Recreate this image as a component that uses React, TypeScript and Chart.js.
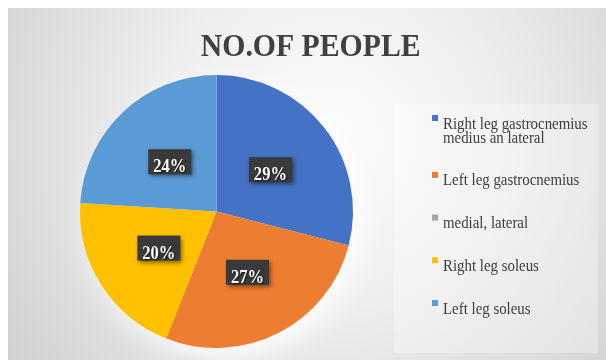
import React, { useEffect, useRef } from "react";
import { Chart, registerables } from "chart.js";

Chart.register(...registerables);

const TITLE = "NO.OF PEOPLE";
const categories = [
  "Right leg gastrocnemius medius an lateral",
  "Left leg gastrocnemius",
  "medial, lateral",
  "Right leg soleus",
  "Left leg soleus",
];
const values = [29, 27, 0, 20, 24];
const colors = ["#4472C4", "#ED7D31", "#A5A5A5", "#FFC000", "#5B9BD5"];

const SERIF = '"Liberation Serif", "Times New Roman", serif';

const backgroundPlugin = {
  id: "bgPlugin",
  beforeDraw(chart: any) {
    const { ctx, width, height } = chart;
    ctx.save();
    const g = ctx.createRadialGradient(320, 130, 0, 320, 130, 430);
    g.addColorStop(0, "#fdfdfd");
    g.addColorStop(0.4, "#eeeeee");
    g.addColorStop(1, "#cbcbcb");
    ctx.fillStyle = g;
    ctx.fillRect(0, 0, width, height);
    // legend panel
    ctx.fillStyle = "rgba(255,255,255,0.3)";
    ctx.fillRect(386, 96, 204, 249);
    ctx.restore();
  },
  beforeDatasetsDraw(chart: any) {
    const meta = chart.getDatasetMeta(0);
    const arc = meta.data[0];
    if (!arc) return;
    const { ctx } = chart;
    ctx.save();
    ctx.shadowColor = "rgba(255,255,255,1)";
    ctx.shadowBlur = 30;
    ctx.shadowOffsetX = 8;
    ctx.shadowOffsetY = 10;
    ctx.fillStyle = "#ffffff";
    ctx.beginPath();
    ctx.arc(arc.x, arc.y, arc.outerRadius - 2, 0, Math.PI * 2);
    ctx.fill();
    ctx.restore();
  },
};

const labelPlugin = {
  id: "labelPlugin",
  afterDatasetsDraw(chart: any) {
    const { ctx } = chart;
    const data = chart.data.datasets[0].data as number[];
    const total = data.reduce((a, b) => a + b, 0);
    const meta = chart.getDatasetMeta(0);
    meta.data.forEach((arc: any, i: number) => {
      const v = data[i];
      if (!v) return;
      const p = arc.getCenterPoint();
      const txt = Math.round((v / total) * 100) + "%";
      ctx.save();
      ctx.shadowColor = "rgba(0,0,0,0.45)";
      ctx.shadowBlur = 4;
      ctx.shadowOffsetX = 2;
      ctx.shadowOffsetY = 2;
      ctx.fillStyle = "#3a3a3a";
      ctx.fillRect(p.x - 21.5, p.y - 12.5, 43, 25);
      ctx.restore();
      ctx.save();
      ctx.translate(p.x, p.y + 10.5);
      ctx.scale(0.92, 1);
      ctx.font = "bold 18px " + SERIF;
      ctx.textAlign = "center";
      ctx.textBaseline = "alphabetic";
      ctx.shadowColor = "rgba(0,0,0,0.6)";
      ctx.shadowBlur = 2;
      ctx.shadowOffsetX = 1;
      ctx.shadowOffsetY = 1;
      ctx.fillStyle = "#ffffff";
      ctx.fillText(txt, 0, 0);
      ctx.restore();
    });
  },
};

const overlayPlugin = {
  id: "overlayPlugin",
  afterDraw(chart: any) {
    const { ctx } = chart;
    // title
    ctx.save();
    ctx.translate(302.7, 48);
    ctx.scale(0.93, 1);
    ctx.font = "bold 32px " + SERIF;
    ctx.textAlign = "center";
    ctx.textBaseline = "alphabetic";
    ctx.fillStyle = "#404040";
    ctx.fillText(TITLE, 0, 0);
    ctx.restore();

    // legend
    const sx = 0.85;
    const maxW = 152;
    const labels = chart.data.labels as string[];
    const bg = chart.data.datasets[0].backgroundColor as string[];
    ctx.save();
    ctx.font = "17.5px " + SERIF;
    const firstBase = 120.5;
    const step = 42.7;
    const lineH = 14.2;
    labels.forEach((lab, i) => {
      const words = lab.split(" ");
      const lines: string[] = [];
      let cur = "";
      words.forEach((w) => {
        const t = cur ? cur + " " + w : w;
        if (ctx.measureText(t).width * sx > maxW && cur) {
          lines.push(cur);
          cur = w;
        } else cur = t;
      });
      if (cur) lines.push(cur);
      const base = firstBase + step * i + (i > 0 ? lineH : 0);
      ctx.fillStyle = bg[i];
      ctx.fillRect(424, base - 13.5, 6, 6);
      ctx.fillStyle = "#3d3d3d";
      lines.forEach((ln, k) => {
        ctx.save();
        ctx.translate(435, base + k * lineH);
        ctx.scale(sx, 1);
        ctx.textAlign = "left";
        ctx.fillText(ln, 0, 0);
        ctx.restore();
      });
    });
    ctx.restore();
  },
};

export default function App() {
  const ref = useRef<HTMLCanvasElement>(null);
  useEffect(() => {
    if (!ref.current) return;
    const chart = new Chart(ref.current, {
      type: "pie",
      data: {
        labels: categories,
        datasets: [{ data: values, backgroundColor: colors, borderWidth: 0 }],
      },
      options: {
        animation: false,
        responsive: false,
        maintainAspectRatio: false,
        layout: { padding: { left: 72, top: 67, right: 253, bottom: 12 } },
        plugins: {
          legend: { display: false },
          tooltip: { enabled: false },
          title: { display: false },
        },
      },
      plugins: [backgroundPlugin, labelPlugin, overlayPlugin],
    });
    return () => chart.destroy();
  }, []);
  return (
    <div style={{ position: "fixed", left: 8, top: 8, width: 598, height: 352 }}>
      <canvas ref={ref} width={598} height={352} style={{ display: "block", width: 598, height: 352 }} />
    </div>
  );
}
